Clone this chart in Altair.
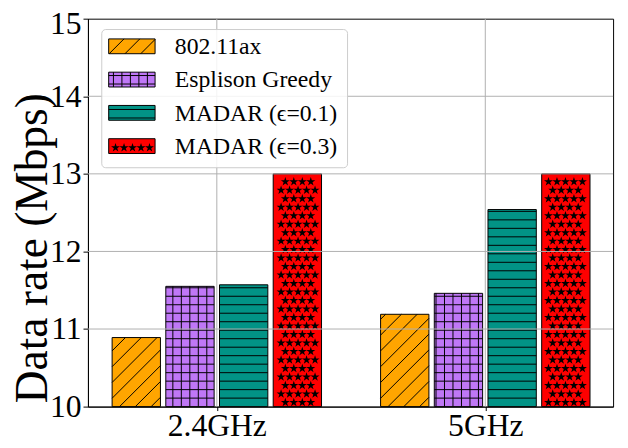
import altair as alt
import numpy as np
import pandas as pd

# ---------------- data ----------------
groups = ["2.4GHz", "5GHz"]
series = ["802.11ax", "Esplison Greedy", "MADAR (\u03f5=0.1)", "MADAR (\u03f5=0.3)"]
v_80211ax = [10.89, 11.19]
v_greedy = [11.55, 11.46]
v_madar01 = [11.57, 12.54]
v_madar03 = [13.0, 13.0]
values = [v_80211ax, v_greedy, v_madar01, v_madar03]
colors = ["#FFA500", "#BF77F6", "#029386", "#FF0000"]
hatches = ["/", "+", "-", "*"]
y_ticks = [10, 11, 12, 13, 14, 15]

# ---------------- geometry ----------------
W, H = 532, 393
XMIN, XMAX = -0.48, 1.476
YMIN, YMAX = 10.0, 15.0
kx = W / (XMAX - XMIN)
ky = H / (YMAX - YMIN)
FONT = "Liberation Serif"
BAR_STEP = 0.2
BAR_W = 0.18
HS = 8.6       # hatch spacing px
DS = 16.0      # diagonal hatch spacing px
STAR_SIZE = 90
STAR_R = np.sqrt(STAR_SIZE) / 2


def xd(px):
    return XMIN + px / kx


def yd(py):  # py measured from plot top
    return YMAX - py / ky


def pattern(kind, x0, x1, y0, y1):
    """Return hatch segments and star points for a rectangle in data units."""
    X0, X1 = (x0 - XMIN) * kx, (x1 - XMIN) * kx
    Y0, Y1 = (y0 - YMIN) * ky, (y1 - YMIN) * ky
    segs, pts = [], []
    if kind in ("-", "+"):
        for Y in np.arange(np.ceil((Y0 + 1) / HS) * HS, Y1 - 1, HS):
            segs.append((X0, Y, X1, Y))
    if kind == "+":
        for X in np.arange(np.ceil((X0 + 1) / HS) * HS, X1 - 1, HS):
            segs.append((X, Y0, X, Y1))
    if kind == "/":
        c = np.floor((Y0 - X1) / DS) * DS
        while c < Y1 - X0:
            xa, xb = max(X0, Y0 - c), min(X1, Y1 - c)
            if xb - xa > 1:
                segs.append((xa, xa + c, xb, xb + c))
            c += DS
    if kind == "*":
        j0 = int(np.floor(Y0 / HS))
        j1 = int(np.ceil(Y1 / HS))
        m = STAR_R - 0.5
        for j in range(j0, j1 + 1):
            Y = (j + 0.5) * HS
            off = (j % 2) * HS / 2
            i0 = int(np.floor((X0 - off) / HS)) - 1
            i1 = int(np.ceil((X1 - off) / HS)) + 1
            for i in range(i0, i1 + 1):
                X = off + i * HS + HS / 4
                if X0 + m <= X <= X1 - m and Y0 + m <= Y <= Y1 - m:
                    pts.append((X, Y))
    segs = [(XMIN + a / kx, YMIN + b / ky, XMIN + c / kx, YMIN + d / ky) for a, b, c, d in segs]
    pts = [(XMIN + a / kx, YMIN + b / ky) for a, b in pts]
    return segs, pts


# bars table
bar_rows, seg_rows, star_rows = [], [], []
for si, s in enumerate(series):
    for gi, g in enumerate(groups):
        cx = gi + (si - 1.5) * BAR_STEP
        v = values[si][gi]
        bar_rows.append(dict(series=s, group=g, x0=cx - BAR_W / 2, x1=cx + BAR_W / 2,
                             v=v, base=YMIN))
        segs, pts = pattern(hatches[si], cx - BAR_W / 2, cx + BAR_W / 2, YMIN, v)
        seg_rows += [dict(xa=a, ya=b, xb=c, yb=d, leg=0) for a, b, c, d in segs]
        star_rows += [dict(x=a, y=b, leg=0) for a, b in pts]

# legend (layout in px relative to plot origin, converted to data units)
LEG = dict(left=14, right=263, top=11, bottom=151)
leg_sym_rows, leg_txt_rows = [], []
for si, s in enumerate(series):
    cy = 28 + si * 33.7
    sx0, sx1 = xd(21), xd(68)
    sy0, sy1 = yd(cy + 7.5), yd(cy - 7.5)
    leg_sym_rows.append(dict(series=s, x0=sx0, x1=sx1, y0=sy0, y1=sy1))
    leg_txt_rows.append(dict(series=s, x=xd(88), y=yd(cy + 1)))
    segs, pts = pattern(hatches[si], sx0, sx1, sy0, sy1)
    seg_rows += [dict(xa=a, ya=b, xb=c, yb=d, leg=1) for a, b, c, d in segs]
    star_rows += [dict(x=a, y=b, leg=1) for a, b in pts]

bars = pd.DataFrame(bar_rows)
segs_df = pd.DataFrame(seg_rows)
stars_df = pd.DataFrame(star_rows)
leg_sym = pd.DataFrame(leg_sym_rows)
leg_txt = pd.DataFrame(leg_txt_rows)

xs = alt.Scale(domain=[XMIN, XMAX], nice=False, zero=False)
ys = alt.Scale(domain=[YMIN, YMAX], nice=False, zero=False)
cscale = alt.Scale(domain=series, range=colors)

label_expr = "[" + ",".join("'%s'" % g for g in groups) + "][round(datum.value)]"

XAXIS = alt.Axis(values=list(range(len(groups))), labelExpr=label_expr, title=None, grid=False,
                 labelFontSize=32, labelFont=FONT, tickSize=4, tickColor="black",
                 domainColor="black", labelColor="black", labelPadding=0, labelFlush=False)
YAXIS = alt.Axis(values=y_ticks, title="Data rate (Mbps)", grid=False, labelFontSize=32,
                 labelFont=FONT, titleFont=FONT, titleFontSize=46, titleFontWeight="normal",
                 tickSize=5, tickColor="black", domainColor="black", labelColor="black",
                 titleColor="black", labelPadding=2, labelFlush=False,
                 labelOffset={"condition": {"test": "datum.value == %d" % y_ticks[-1], "value": 5},
                              "value": 0},
                 titleAngle=270, titleAlign="center", titleBaseline="bottom",
                 titleX=-32, titleY=232)


def X(field):
    return alt.X(field, scale=xs, axis=XAXIS)


def Y(field):
    return alt.Y(field, scale=ys, axis=YAXIS)


bar_layer = alt.Chart(bars).mark_bar(stroke="black", strokeWidth=1).encode(
    x=X("x0:Q"), x2="x1:Q", y=Y("v:Q"), y2="base:Q",
    fill=alt.Fill("series:N", scale=cscale, legend=None),
)


def seg_layer(df):
    return alt.Chart(df).mark_rule(color="black", strokeWidth=1).encode(
        x=X("xa:Q"), y=Y("ya:Q"), x2="xb:Q", y2="yb:Q")


star_path = ("M0,-1L0.2245,-0.309L0.951,-0.309L0.3633,0.118L0.5878,0.809L0,0.382"
             "L-0.5878,0.809L-0.3633,0.118L-0.951,-0.309L-0.2245,-0.309Z")


def star_layer(df):
    return alt.Chart(df).mark_point(shape=star_path, filled=True, color="black", size=STAR_SIZE,
                                    opacity=1).encode(x=X("x:Q"), y=Y("y:Q"))


grid_rows = [dict(xa=XMIN, xb=XMAX, ya=t, yb=t) for t in y_ticks[1:-1]] + \
            [dict(xa=float(i), xb=float(i), ya=YMIN, yb=YMAX) for i in range(len(groups))]
grid_layer = alt.Chart(pd.DataFrame(grid_rows)).mark_rule(color="#b0b0b0", strokeWidth=1).encode(
    x=X("xa:Q"), y=Y("ya:Q"), x2="xb:Q", y2="yb:Q")

leg_box = alt.Chart(pd.DataFrame([dict(x0=xd(LEG["left"]), x1=xd(LEG["right"]),
                                       y0=yd(LEG["bottom"]), y1=yd(LEG["top"]))])).mark_rect(
    fill="white", fillOpacity=0.85, stroke="#cccccc", strokeWidth=1, cornerRadius=4).encode(
    x=X("x0:Q"), x2="x1:Q", y=Y("y0:Q"), y2="y1:Q")

leg_rect = alt.Chart(leg_sym).mark_rect(stroke="black", strokeWidth=1).encode(
    x=X("x0:Q"), x2="x1:Q", y=Y("y0:Q"), y2="y1:Q",
    fill=alt.Fill("series:N", scale=cscale, legend=None))

leg_text = alt.Chart(leg_txt).mark_text(align="left", baseline="middle", font=FONT, fontSize=24,
                                        color="black").encode(
    x=X("x:Q"), y=Y("y:Q"), text="series:N")

bar_segs = segs_df[segs_df["leg"] == 0]
leg_segs = segs_df[segs_df["leg"] == 1]
bar_stars = stars_df[stars_df["leg"] == 0]
leg_stars = stars_df[stars_df["leg"] == 1]

chart = alt.layer(
    bar_layer,
    seg_layer(bar_segs),
    star_layer(bar_stars),
    grid_layer,
    leg_box,
    leg_rect,
    seg_layer(leg_segs),
    star_layer(leg_stars),
    leg_text,
).properties(
    width=W, height=H,
    autosize=alt.AutoSizeParams(type="none"),
    padding={"left": 81, "top": 8, "right": 7, "bottom": 31},
).configure(font=FONT).configure_view(stroke="black", strokeWidth=1)

chart.save("out.html", embed_options={"renderer": "svg", "actions": False})
